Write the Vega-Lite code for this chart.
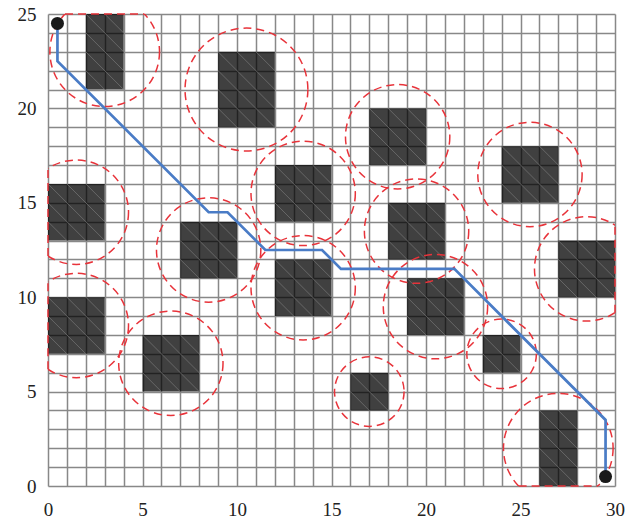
{
  "$schema": "https://vega.github.io/schema/vega-lite/v6.json",
  "width": 567,
  "height": 472,
  "autosize": {"type": "none"},
  "padding": {"left": 48, "top": 14, "right": 25, "bottom": 38},
  "background": "white",
  "config": {"view": {"stroke": null}},
  "encoding": {
    "x": {
      "field": "x", "type": "quantitative", "title": null,
      "scale": {"domain": [0, 30], "nice": false, "zero": false},
      "axis": {
        "values": [0,1,2,3,4,5,6,7,8,9,10,11,12,13,14,15,16,17,18,19,20,21,22,23,24,25,26,27,28,29,30],
        "labelExpr": "datum.value % 5 == 0 ? datum.label : ''",
        "domain": false, "ticks": false, "grid": true,
        "gridColor": "#888888", "gridWidth": 1.5, "gridOpacity": 1,
        "labelFont": "Liberation Serif", "labelFontSize": 19, "labelColor": "#222",
        "labelPadding": 14, "labelFlush": false, "labelOverlap": false
      }
    },
    "y": {
      "field": "y", "type": "quantitative", "title": null,
      "scale": {"domain": [0, 25], "nice": false, "zero": false},
      "axis": {
        "values": [0,1,2,3,4,5,6,7,8,9,10,11,12,13,14,15,16,17,18,19,20,21,22,23,24,25],
        "labelExpr": "datum.value % 5 == 0 ? datum.label : ''",
        "domain": false, "ticks": false, "grid": true,
        "gridColor": "#888888", "gridWidth": 1.5, "gridOpacity": 1,
        "labelFont": "Liberation Serif", "labelFontSize": 19, "labelColor": "#222",
        "labelPadding": 12, "labelFlush": false, "labelOverlap": false
      }
    }
  },
  "layer": [
    {
      "data": {"values": [
        {"x": 2, "x2": 4, "y": 21, "y2": 25},
        {"x": 9, "x2": 12, "y": 19, "y2": 23},
        {"x": 17, "x2": 20, "y": 17, "y2": 20},
        {"x": 24, "x2": 27, "y": 15, "y2": 18},
        {"x": 0, "x2": 3, "y": 13, "y2": 16},
        {"x": 7, "x2": 10, "y": 11, "y2": 14},
        {"x": 12, "x2": 15, "y": 14, "y2": 17},
        {"x": 12, "x2": 15, "y": 9, "y2": 12},
        {"x": 18, "x2": 21, "y": 12, "y2": 15},
        {"x": 27, "x2": 30, "y": 10, "y2": 13},
        {"x": 0, "x2": 3, "y": 7, "y2": 10},
        {"x": 19, "x2": 22, "y": 8, "y2": 11},
        {"x": 5, "x2": 8, "y": 5, "y2": 8},
        {"x": 16, "x2": 18, "y": 4, "y2": 6},
        {"x": 23, "x2": 25, "y": 6, "y2": 8},
        {"x": 26, "x2": 28, "y": 0, "y2": 4}
      ]},
      "mark": {"type": "rect", "fill": "#000000", "fillOpacity": 0.75, "strokeWidth": 0},
      "encoding": {"x2": {"field": "x2"}, "y2": {"field": "y2"}}
    },
    {
      "data": {"values": [
        {"x": 17, "y": 18, "x2": 18, "y2": 17}, {"x": 17, "y": 19, "x2": 19, "y2": 17}, {"x": 17, "y": 20, "x2": 20, "y2": 17}, {"x": 18, "y": 20, "x2": 20, "y2": 18}, {"x": 19, "y": 20, "x2": 20, "y2": 19},
        {"x": 24, "y": 16, "x2": 25, "y2": 15}, {"x": 24, "y": 17, "x2": 26, "y2": 15}, {"x": 24, "y": 18, "x2": 27, "y2": 15}, {"x": 25, "y": 18, "x2": 27, "y2": 16}, {"x": 26, "y": 18, "x2": 27, "y2": 17},
        {"x": 0, "y": 14, "x2": 1, "y2": 13}, {"x": 0, "y": 15, "x2": 2, "y2": 13}, {"x": 0, "y": 16, "x2": 3, "y2": 13}, {"x": 1, "y": 16, "x2": 3, "y2": 14}, {"x": 2, "y": 16, "x2": 3, "y2": 15},
        {"x": 7, "y": 12, "x2": 8, "y2": 11}, {"x": 7, "y": 13, "x2": 9, "y2": 11}, {"x": 7, "y": 14, "x2": 10, "y2": 11}, {"x": 8, "y": 14, "x2": 10, "y2": 12}, {"x": 9, "y": 14, "x2": 10, "y2": 13},
        {"x": 12, "y": 15, "x2": 13, "y2": 14}, {"x": 12, "y": 16, "x2": 14, "y2": 14}, {"x": 12, "y": 17, "x2": 15, "y2": 14}, {"x": 13, "y": 17, "x2": 15, "y2": 15}, {"x": 14, "y": 17, "x2": 15, "y2": 16},
        {"x": 12, "y": 10, "x2": 13, "y2": 9}, {"x": 12, "y": 11, "x2": 14, "y2": 9}, {"x": 12, "y": 12, "x2": 15, "y2": 9}, {"x": 13, "y": 12, "x2": 15, "y2": 10}, {"x": 14, "y": 12, "x2": 15, "y2": 11},
        {"x": 18, "y": 13, "x2": 19, "y2": 12}, {"x": 18, "y": 14, "x2": 20, "y2": 12}, {"x": 18, "y": 15, "x2": 21, "y2": 12}, {"x": 19, "y": 15, "x2": 21, "y2": 13}, {"x": 20, "y": 15, "x2": 21, "y2": 14},
        {"x": 27, "y": 11, "x2": 28, "y2": 10}, {"x": 27, "y": 12, "x2": 29, "y2": 10}, {"x": 27, "y": 13, "x2": 30, "y2": 10}, {"x": 28, "y": 13, "x2": 30, "y2": 11}, {"x": 29, "y": 13, "x2": 30, "y2": 12},
        {"x": 0, "y": 8, "x2": 1, "y2": 7}, {"x": 0, "y": 9, "x2": 2, "y2": 7}, {"x": 0, "y": 10, "x2": 3, "y2": 7}, {"x": 1, "y": 10, "x2": 3, "y2": 8}, {"x": 2, "y": 10, "x2": 3, "y2": 9},
        {"x": 19, "y": 9, "x2": 20, "y2": 8}, {"x": 19, "y": 10, "x2": 21, "y2": 8}, {"x": 19, "y": 11, "x2": 22, "y2": 8}, {"x": 20, "y": 11, "x2": 22, "y2": 9}, {"x": 21, "y": 11, "x2": 22, "y2": 10},
        {"x": 5, "y": 6, "x2": 6, "y2": 5}, {"x": 5, "y": 7, "x2": 7, "y2": 5}, {"x": 5, "y": 8, "x2": 8, "y2": 5}, {"x": 6, "y": 8, "x2": 8, "y2": 6}, {"x": 7, "y": 8, "x2": 8, "y2": 7},
        {"x": 9, "y": 20, "x2": 10, "y2": 19}, {"x": 9, "y": 21, "x2": 11, "y2": 19}, {"x": 9, "y": 22, "x2": 12, "y2": 19}, {"x": 9, "y": 23, "x2": 12, "y2": 20}, {"x": 10, "y": 23, "x2": 12, "y2": 21}, {"x": 11, "y": 23, "x2": 12, "y2": 22},
        {"x": 2, "y": 22, "x2": 3, "y2": 21}, {"x": 2, "y": 23, "x2": 4, "y2": 21}, {"x": 2, "y": 24, "x2": 4, "y2": 22}, {"x": 2, "y": 25, "x2": 4, "y2": 23}, {"x": 3, "y": 25, "x2": 4, "y2": 24},
        {"x": 26, "y": 1, "x2": 27, "y2": 0}, {"x": 26, "y": 2, "x2": 28, "y2": 0}, {"x": 26, "y": 3, "x2": 28, "y2": 1}, {"x": 26, "y": 4, "x2": 28, "y2": 2}, {"x": 27, "y": 4, "x2": 28, "y2": 3},
        {"x": 16, "y": 5, "x2": 17, "y2": 4}, {"x": 16, "y": 6, "x2": 18, "y2": 4}, {"x": 17, "y": 6, "x2": 18, "y2": 5},
        {"x": 23, "y": 7, "x2": 24, "y2": 6}, {"x": 23, "y": 8, "x2": 25, "y2": 6}, {"x": 24, "y": 8, "x2": 25, "y2": 7}
      ]},
      "mark": {"type": "rule", "stroke": "#777777", "strokeWidth": 0.7},
      "encoding": {"x2": {"field": "x2"}, "y2": {"field": "y2"}}
    },
    {
      "data": {"values": [
        {"x": 3, "y": 23, "r": 2.9},
        {"x": 10.5, "y": 21, "r": 3.25},
        {"x": 18.5, "y": 18.5, "r": 2.76},
        {"x": 25.5, "y": 16.5, "r": 2.76},
        {"x": 1.5, "y": 14.5, "r": 2.76},
        {"x": 8.5, "y": 12.5, "r": 2.76},
        {"x": 13.5, "y": 15.5, "r": 2.76},
        {"x": 13.5, "y": 10.5, "r": 2.76},
        {"x": 19.5, "y": 13.5, "r": 2.76},
        {"x": 28.5, "y": 11.5, "r": 2.76},
        {"x": 1.5, "y": 8.5, "r": 2.76},
        {"x": 20.5, "y": 9.5, "r": 2.76},
        {"x": 6.5, "y": 6.5, "r": 2.76},
        {"x": 17, "y": 5, "r": 1.84},
        {"x": 24, "y": 7, "r": 1.84},
        {"x": 27, "y": 2, "r": 2.9}
      ]},
      "mark": {"type": "point", "shape": "circle", "filled": false, "clip": true, "stroke": "#e8333a", "strokeWidth": 1.5, "strokeDash": [8, 5], "opacity": 1},
      "encoding": {
        "size": {"field": "r", "type": "quantitative", "legend": null, "scale": {"type": "pow", "exponent": 2, "domain": [0, 1], "range": [0, 1429]}}
      }
    },
    {
      "data": {"values": [
        {"x": 0.9, "y": 25, "x2": 5.1, "y2": 25},
        {"x": 24.9, "y": 0, "x2": 29.1, "y2": 0},
        {"x": 0, "y": 12.18, "x2": 0, "y2": 16.82},
        {"x": 0, "y": 6.18, "x2": 0, "y2": 10.82},
        {"x": 30, "y": 9.18, "x2": 30, "y2": 13.82}
      ]},
      "mark": {"type": "rule", "stroke": "#e8333a", "strokeWidth": 1.5, "strokeDash": [8, 5]},
      "encoding": {"x2": {"field": "x2"}, "y2": {"field": "y2"}}
    },
    {
      "data": {"values": [
        {"order": 1, "x": 0.5, "y": 24.5},
        {"order": 2, "x": 0.5, "y": 22.5},
        {"order": 3, "x": 8.5, "y": 14.5},
        {"order": 4, "x": 9.5, "y": 14.5},
        {"order": 5, "x": 11.5, "y": 12.5},
        {"order": 6, "x": 14.5, "y": 12.5},
        {"order": 7, "x": 15.5, "y": 11.5},
        {"order": 8, "x": 21.5, "y": 11.5},
        {"order": 9, "x": 29.5, "y": 3.5},
        {"order": 10, "x": 29.5, "y": 0.5}
      ]},
      "mark": {"type": "line", "stroke": "#4a7cc6", "strokeWidth": 2.7},
      "encoding": {"order": {"field": "order", "type": "quantitative"}}
    },
    {
      "data": {"values": [
        {"x": 0.5, "y": 24.5},
        {"x": 29.5, "y": 0.5}
      ]},
      "mark": {"type": "point", "shape": "circle", "filled": true, "fill": "#1a1a1a", "opacity": 1, "size": 169, "strokeWidth": 0}
    }
  ]
}
